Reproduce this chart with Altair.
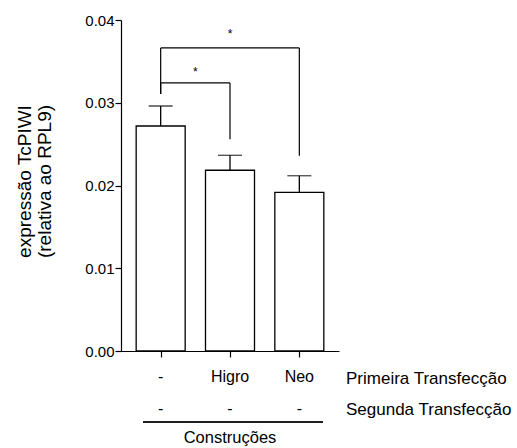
import altair as alt
import pandas as pd

# ---- data ----
group_pos = [0, 1, 2]
row1_labels = ["-", "Higro", "Neo"]
row2_labels = ["-", "-", "-"]
means = [0.02719, 0.02184, 0.01918]
sems = [0.00242, 0.00181, 0.00200]
row_names = ["Primeira Transfecção", "Segunda Transfecção"]
group_title = "Construções"
y_ticks = [0.0, 0.01, 0.02, 0.03, 0.04]

# significance brackets
br_left = [0, 0]
br_right = [1, 2]
br_level = [0.03239, 0.03662]
br_left_end = [0.03106, 0.03106]
br_right_end = [0.02558, 0.02360]
star_y = [0.03323, 0.03782]

FONT = "Liberation Sans"
W, H = 218, 331

bars = pd.DataFrame({"x": group_pos, "mean": means, "sem": sems,
                     "r1": row1_labels, "r2": row2_labels})
bars["top"] = bars["mean"] + bars["sem"]

hseg = pd.DataFrame({"x": br_left, "x2": br_right, "y": br_level})
vseg = pd.DataFrame({
    "x": br_left + br_right,
    "y": br_level + br_level,
    "y2": br_left_end + br_right_end,
})
stars = pd.DataFrame({"x": [(a + b) / 2 for a, b in zip(br_left, br_right)],
                      "y": star_y, "t": ["*", "*"]})

xs = alt.Scale(domain=[-0.5, 2.5], nice=False, zero=False)
ys = alt.Scale(domain=[0, 0.04], nice=False)

x_axis = alt.Axis(values=group_pos, labels=False, title=None, grid=False,
                  tickSize=6, domainColor="black", tickColor="black",
                  domainWidth=1.2, tickWidth=1.2)
y_axis = alt.Axis(values=y_ticks, format=".2f", grid=False, tickSize=6,
                  labelFont=FONT, labelFontSize=15, labelColor="black",
                  labelPadding=1, domainColor="black", tickColor="black",
                  domainWidth=1.2, tickWidth=1.2,
                  title=["expressão TcPIWI", "(relativa ao RPL9)"],
                  titleFont=FONT, titleFontSize=19, titleFontWeight="normal",
                  titleColor="black", titleAngle=270, titleAlign="center",
                  titleBaseline="alphabetic", titleX=-91, titleY=161,
                  titleLineHeight=20)

def xq():
    return alt.X("x:Q", scale=xs, axis=x_axis)

def yq(f):
    return alt.Y(f, scale=ys, axis=y_axis)

bar_layer = alt.Chart(bars).mark_bar(size=49, fill="white", stroke="black",
                                     strokeWidth=1.3).encode(x=xq(), y=yq("mean:Q"))
err = alt.Chart(bars).mark_rule(color="black", strokeWidth=1.3).encode(
    x=xq(), y=yq("mean:Q"), y2="top:Q")
cap = alt.Chart(bars).mark_tick(orient="horizontal", size=24, thickness=1.3,
                                color="black").encode(x=xq(), y=yq("top:Q"))

h_layer = alt.Chart(hseg).mark_rule(color="black", strokeWidth=1.2).encode(
    x=xq(), x2="x2:Q", y=yq("y:Q"))
v_layer = alt.Chart(vseg).mark_rule(color="black", strokeWidth=1.2).encode(
    x=xq(), y=yq("y:Q"), y2="y2:Q")
star_layer = alt.Chart(stars).mark_text(font=FONT, fontSize=12, color="black",
                                        baseline="alphabetic").encode(
    x=xq(), y=yq("y:Q"), text="t:N")

r1 = alt.Chart(bars).mark_text(font=FONT, fontSize=16, color="black",
                               baseline="alphabetic").encode(
    x=xq(), y=alt.value(H + 31), text="r1:N")
r2 = alt.Chart(bars).mark_text(font=FONT, fontSize=16, color="black",
                               baseline="alphabetic").encode(
    x=xq(), y=alt.value(H + 63), text="r2:N")
rn1 = alt.Chart(pd.DataFrame({"t": [row_names[0]]})).mark_text(
    font=FONT, fontSize=17, color="black", baseline="alphabetic", align="left"
).encode(x=alt.value(W + 7), y=alt.value(H + 33), text="t:N")
rn2 = alt.Chart(pd.DataFrame({"t": [row_names[1]]})).mark_text(
    font=FONT, fontSize=17, color="black", baseline="alphabetic", align="left"
).encode(x=alt.value(W + 7), y=alt.value(H + 64), text="t:N")
line = alt.Chart(bars).mark_rule(color="black", strokeWidth=1.2).encode(
    x=alt.value(22), x2=alt.value(202), y=alt.value(H + 71))
cons = alt.Chart(pd.DataFrame({"t": [group_title], "x": [1]})).mark_text(
    font=FONT, fontSize=16.5, color="black", baseline="alphabetic").encode(
    x=xq(), y=alt.value(H + 92), text="t:N")

chart = alt.layer(bar_layer, err, cap, h_layer, v_layer, star_layer,
                  r1, r2, rn1, rn2, line, cons).properties(
    width=W, height=H,
    autosize=alt.AutoSizeParams(type="none"),
    padding={"left": 121, "top": 20, "right": 517 - 121 - W, "bottom": 448 - 20 - H},
).configure(background="white").configure_view(stroke=None)

chart.save("out.html", embed_options={"renderer": "svg", "actions": False})
